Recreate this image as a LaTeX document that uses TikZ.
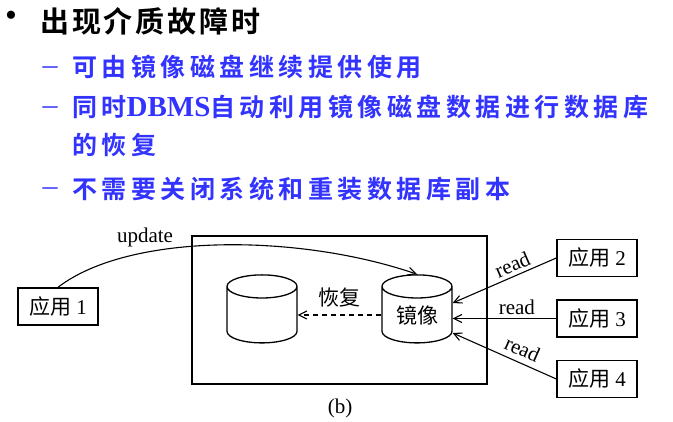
\documentclass[tikz,border=0pt]{standalone}
\usepackage{fontspec}
\setmainfont{Liberation Serif}
\newfontfamily\cjk{Noto Sans CJK SC}
\newfontfamily\cjktitle[LetterSpace=10]{Noto Sans CJK SC Bold}
\newfontfamily\cjkitem[LetterSpace=18]{Noto Sans CJK SC Bold}
\newfontfamily\latinbold{Liberation Serif Bold}
\usetikzlibrary{shapes.geometric,arrows.meta}
\definecolor{itemblue}{RGB}{51,51,255}
\begin{document}
\begin{tikzpicture}[x=1pt,y=1pt]
				\useasboundingbox(0,0)rectangle(673,422);
				\tikzset{app/.style={draw,line width=1.4pt,minimum width=80pt,minimum height=37pt,inner sep=0pt,font=\fontsize{21}{24}\selectfont},
					disk/.style={draw,cylinder,shape border rotate=90,aspect=0.55,line width=1.3pt,minimum width=70pt,minimum height=68pt,inner sep=0pt,font=\fontsize{21}{24}\selectfont\cjk},
					lbl/.style={font=\fontsize{21}{24}\selectfont,inner sep=1pt},
					itemtext/.style={anchor=west,inner sep=0pt,text=itemblue,font=\fontsize{25}{30}\selectfont\cjkitem},
					itemdash/.style={inner sep=0pt,text=itemblue,font=\fontsize{30}{30}\selectfont},
					arr/.style={line width=1.1pt,-{Straight Barb[length=8pt,width=8pt]}}}
				% text lines
				\node[font=\fontsize{34}{34}\selectfont,inner sep=0pt](bullet)at(11,403){•};
				\node[anchor=west,inner sep=0pt,font=\fontsize{29}{32}\selectfont\cjktitle](title)at(40,401){出现介质故障时};
				\foreach \n/\y in {d1/351,d2/311,d3/230}
				\node[itemdash](\n)at(50,\y){–};
				\node[itemtext](t1)at(72,355){可由镜像磁盘继续提供使用};
				\node[itemtext](t2)at(72,315){同时{\fontsize{29}{30}\latinbold DBMS}自动利用镜像磁盘数据进行数据库};
				\node[itemtext](t3)at(72,277){的恢复};
				\node[itemtext](t4)at(72,233){不需要关闭系统和重装数据库副本};
				% diagram
				\node[draw,line width=1.6pt,minimum width=295pt,minimum height=148pt](frame)at(339.5,112){};
				\path(58,115.5)node[app](app1){{\cjk 应用} 1};
				\path(597,164)node[app](app2){{\cjk 应用} 2}++(0,-60.5)node[app](app3){{\cjk 应用} 3}++(0,-60.5)node[app](app4){{\cjk 应用} 4};
				\path(262,107)node[disk](disk){\phantom{镜像}}(417,107)node[disk](mirror){镜像};
				\draw[arr](app1.north)..controls(130,190)and(300,188)..(mirror.north);
				\node[lbl](upd)at(145,185){update};
				\draw[arr,dash pattern=on 5pt off 4pt](mirror.west)--(mirror.west-|disk.east);
				\path(mirror.west)--(mirror.west-|disk.east)node[pos=0.5,above=7pt,lbl]{\cjk 恢复};
				\foreach \a/\s in {app2/12,app4/-18}
				\draw[arr](\a.west)--([yshift=\s pt]mirror.east);
				\draw[arr](app3.west)--(app3.west-|mirror.east);
				\path([yshift=12pt]mirror.east)--(app2.west)node[pos=0.62,above=3pt,sloped,lbl]{read}
				(app3.west-|mirror.east)--(app3.west)node[pos=0.62,above=3pt,lbl]{read}
				([yshift=-18pt]mirror.east)--(app4.west)node[pos=0.62,above=5pt,sloped,lbl]{read};
				\node[lbl](cap)at(340,14){(b)};
			\end{tikzpicture}
\end{document}
